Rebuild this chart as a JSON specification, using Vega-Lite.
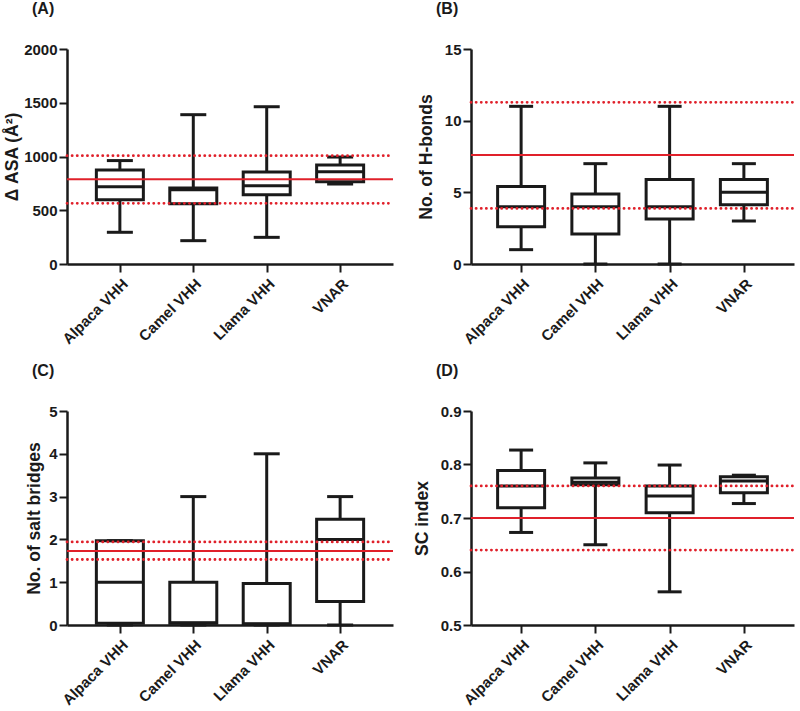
{
  "$schema": "https://vega.github.io/schema/vega-lite/v6.json",
  "background": "white",
  "padding": {"left": 3, "top": 1, "right": 0, "bottom": 0},
  "datasets": {
    "boxes": [
      {"panel": "A", "cat": "Alpaca VHH", "min": 295, "q1": 597, "median": 719, "q3": 874, "max": 962},
      {"panel": "A", "cat": "Camel VHH", "min": 217, "q1": 560, "median": 690, "q3": 706, "max": 1389},
      {"panel": "A", "cat": "Llama VHH", "min": 248, "q1": 645, "median": 729, "q3": 856, "max": 1463},
      {"panel": "A", "cat": "VNAR", "min": 744, "q1": 766, "median": 859, "q3": 921, "max": 995},
      {"panel": "B", "cat": "Alpaca VHH", "min": 1.0, "q1": 2.6, "median": 4.0, "q3": 5.4, "max": 11.0},
      {"panel": "B", "cat": "Camel VHH", "min": 0, "q1": 2.1, "median": 4.0, "q3": 4.88, "max": 7.0},
      {"panel": "B", "cat": "Llama VHH", "min": 0, "q1": 3.14, "median": 4.0, "q3": 5.9, "max": 11.0},
      {"panel": "B", "cat": "VNAR", "min": 3.0, "q1": 4.14, "median": 5.0, "q3": 5.9, "max": 7.0},
      {"panel": "C", "cat": "Alpaca VHH", "min": 0, "q1": 0.04, "median": 1.0, "q3": 1.97, "max": 1.97},
      {"panel": "C", "cat": "Camel VHH", "min": 0, "q1": 0.04, "median": 0.05, "q3": 1.0, "max": 3.0},
      {"panel": "C", "cat": "Llama VHH", "min": 0, "q1": 0.02, "median": 0.03, "q3": 0.97, "max": 4.0},
      {"panel": "C", "cat": "VNAR", "min": 0, "q1": 0.55, "median": 2.0, "q3": 2.47, "max": 3.0},
      {"panel": "D", "cat": "Alpaca VHH", "min": 0.673, "q1": 0.719, "median": 0.760, "q3": 0.789, "max": 0.827},
      {"panel": "D", "cat": "Camel VHH", "min": 0.650, "q1": 0.762, "median": 0.767, "q3": 0.775, "max": 0.803},
      {"panel": "D", "cat": "Llama VHH", "min": 0.562, "q1": 0.710, "median": 0.741, "q3": 0.760, "max": 0.799},
      {"panel": "D", "cat": "VNAR", "min": 0.727, "q1": 0.747, "median": 0.769, "q3": 0.777, "max": 0.780}
    ],
    "refs": [
      {"panel": "A", "kind": "mean", "value": 788},
      {"panel": "A", "kind": "sd", "value": 1008},
      {"panel": "A", "kind": "sd", "value": 564},
      {"panel": "B", "kind": "mean", "value": 7.6},
      {"panel": "B", "kind": "sd", "value": 11.28},
      {"panel": "B", "kind": "sd", "value": 3.88},
      {"panel": "C", "kind": "mean", "value": 1.73},
      {"panel": "C", "kind": "sd", "value": 1.94},
      {"panel": "C", "kind": "sd", "value": 1.53},
      {"panel": "D", "kind": "mean", "value": 0.70},
      {"panel": "D", "kind": "sd", "value": 0.76},
      {"panel": "D", "kind": "sd", "value": 0.64}
    ]
  },
  "config": {
    "view": {"stroke": null},
    "font": "Liberation Sans",
    "tick": {"opacity": 1},
    "axis": {
      "grid": false,
      "domainColor": "#1a1a1a",
      "domainWidth": 2.5,
      "tickColor": "#1a1a1a",
      "tickWidth": 2,
      "tickSize": 8,
      "labelFont": "Liberation Sans",
      "labelFontWeight": "bold",
      "labelFontSize": 15,
      "labelColor": "#1a1a1a",
      "labelPadding": 2,
      "titleFont": "Liberation Sans",
      "titleFontSize": 17.5,
      "titleFontWeight": "bold",
      "titleColor": "#1a1a1a"
    },
    "title": {"font": "Liberation Sans", "fontSize": 16, "fontWeight": "bold", "color": "#1a1a1a", "anchor": "start", "frame": "group", "dx": -35, "offset": 25}
  },
  "columns": 2,
  "spacing": {"row": 16, "column": 18},
  "concat": [
    {
      "title": "(A)",
      "width": 326, "height": 215,
      "encoding": {
        "x": {"field": "cat", "type": "nominal", "sort": null, "scale": {"type": "point", "padding": 0.72}, "axis": {"title": null, "labelAngle": -45, "labelPadding": 4}}
      },
      "layer": [
        {"data": {"name": "boxes"}, "transform": [{"filter": "datum.panel == 'A'"}], "mark": {"type": "rule", "color": "#1a1a1a", "strokeWidth": 3}, "encoding": {"y": {"field": "min", "type": "quantitative", "scale": {"domain": [0, 2000], "nice": false}, "axis": {"values": [0, 500, 1000, 1500, 2000], "format": "d", "title": "Δ ASA (Å²)", "titlePadding": 2}}, "y2": {"field": "max"}}},
        {"data": {"name": "boxes"}, "transform": [{"filter": "datum.panel == 'A'"}], "mark": {"type": "bar", "fill": "white", "stroke": "#1a1a1a", "strokeWidth": 3, "size": 47}, "encoding": {"y": {"field": "q1", "type": "quantitative"}, "y2": {"field": "q3"}}},
        {"data": {"name": "boxes"}, "transform": [{"filter": "datum.panel == 'A'"}], "mark": {"type": "tick", "color": "#1a1a1a", "thickness": 3, "size": 47}, "encoding": {"y": {"field": "median", "type": "quantitative"}}},
        {"data": {"name": "boxes"}, "transform": [{"filter": "datum.panel == 'A'"}], "mark": {"type": "tick", "color": "#1a1a1a", "thickness": 3, "size": 26}, "encoding": {"y": {"field": "min", "type": "quantitative"}}},
        {"data": {"name": "boxes"}, "transform": [{"filter": "datum.panel == 'A'"}], "mark": {"type": "tick", "color": "#1a1a1a", "thickness": 3, "size": 26}, "encoding": {"y": {"field": "max", "type": "quantitative"}}},
        {"data": {"name": "refs"}, "transform": [{"filter": "datum.panel == 'A' && datum.kind == 'mean'"}], "mark": {"type": "rule", "color": "#e0202a", "strokeWidth": 2}, "encoding": {"y": {"field": "value", "type": "quantitative"}, "x": {"value": 0}, "x2": {"value": 326}}},
        {"data": {"name": "refs"}, "transform": [{"filter": "datum.panel == 'A' && datum.kind == 'sd'"}], "mark": {"type": "rule", "color": "#e0202a", "strokeWidth": 2.8, "strokeDash": [0.1, 5], "strokeCap": "round"}, "encoding": {"y": {"field": "value", "type": "quantitative"}, "x": {"value": 0}, "x2": {"value": 326}}}
      ]
    },
    {
      "title": "(B)",
      "width": 323, "height": 215,
      "encoding": {
        "x": {"field": "cat", "type": "nominal", "sort": null, "scale": {"type": "point", "padding": 0.675}, "axis": {"title": null, "labelAngle": -45, "labelPadding": 4}}
      },
      "layer": [
        {"data": {"name": "boxes"}, "transform": [{"filter": "datum.panel == 'B'"}], "mark": {"type": "rule", "color": "#1a1a1a", "strokeWidth": 3}, "encoding": {"y": {"field": "min", "type": "quantitative", "scale": {"domain": [0, 15], "nice": false}, "axis": {"values": [0, 5, 10, 15], "title": "No. of  H-bonds", "titlePadding": 9}}, "y2": {"field": "max"}}},
        {"data": {"name": "boxes"}, "transform": [{"filter": "datum.panel == 'B'"}], "mark": {"type": "bar", "fill": "white", "stroke": "#1a1a1a", "strokeWidth": 3, "size": 47}, "encoding": {"y": {"field": "q1", "type": "quantitative"}, "y2": {"field": "q3"}}},
        {"data": {"name": "boxes"}, "transform": [{"filter": "datum.panel == 'B'"}], "mark": {"type": "tick", "color": "#1a1a1a", "thickness": 3, "size": 47}, "encoding": {"y": {"field": "median", "type": "quantitative"}}},
        {"data": {"name": "boxes"}, "transform": [{"filter": "datum.panel == 'B'"}], "mark": {"type": "tick", "color": "#1a1a1a", "thickness": 3, "size": 24}, "encoding": {"y": {"field": "min", "type": "quantitative"}}},
        {"data": {"name": "boxes"}, "transform": [{"filter": "datum.panel == 'B'"}], "mark": {"type": "tick", "color": "#1a1a1a", "thickness": 3, "size": 24}, "encoding": {"y": {"field": "max", "type": "quantitative"}}},
        {"data": {"name": "refs"}, "transform": [{"filter": "datum.panel == 'B' && datum.kind == 'mean'"}], "mark": {"type": "rule", "color": "#e0202a", "strokeWidth": 2}, "encoding": {"y": {"field": "value", "type": "quantitative"}, "x": {"value": 0}, "x2": {"value": 323}}},
        {"data": {"name": "refs"}, "transform": [{"filter": "datum.panel == 'B' && datum.kind == 'sd'"}], "mark": {"type": "rule", "color": "#e0202a", "strokeWidth": 2.8, "strokeDash": [0.1, 5], "strokeCap": "round"}, "encoding": {"y": {"field": "value", "type": "quantitative"}, "x": {"value": 0}, "x2": {"value": 323}}}
      ]
    },
    {
      "title": "(C)",
      "width": 326, "height": 214,
      "encoding": {
        "x": {"field": "cat", "type": "nominal", "sort": null, "scale": {"type": "point", "padding": 0.72}, "axis": {"title": null, "labelAngle": -45, "labelPadding": 4}}
      },
      "layer": [
        {"data": {"name": "boxes"}, "transform": [{"filter": "datum.panel == 'C'"}], "mark": {"type": "rule", "color": "#1a1a1a", "strokeWidth": 3}, "encoding": {"y": {"field": "min", "type": "quantitative", "scale": {"domain": [0, 5], "nice": false}, "axis": {"values": [0, 1, 2, 3, 4, 5], "title": "No. of  salt bridges", "titlePadding": 5}}, "y2": {"field": "max"}}},
        {"data": {"name": "boxes"}, "transform": [{"filter": "datum.panel == 'C'"}], "mark": {"type": "bar", "fill": "white", "stroke": "#1a1a1a", "strokeWidth": 3, "size": 47}, "encoding": {"y": {"field": "q1", "type": "quantitative"}, "y2": {"field": "q3"}}},
        {"data": {"name": "boxes"}, "transform": [{"filter": "datum.panel == 'C'"}], "mark": {"type": "tick", "color": "#1a1a1a", "thickness": 3, "size": 47}, "encoding": {"y": {"field": "median", "type": "quantitative"}}},
        {"data": {"name": "boxes"}, "transform": [{"filter": "datum.panel == 'C'"}], "mark": {"type": "tick", "color": "#1a1a1a", "thickness": 3, "size": 26}, "encoding": {"y": {"field": "min", "type": "quantitative"}}},
        {"data": {"name": "boxes"}, "transform": [{"filter": "datum.panel == 'C'"}], "mark": {"type": "tick", "color": "#1a1a1a", "thickness": 3, "size": 26}, "encoding": {"y": {"field": "max", "type": "quantitative"}}},
        {"data": {"name": "refs"}, "transform": [{"filter": "datum.panel == 'C' && datum.kind == 'mean'"}], "mark": {"type": "rule", "color": "#e0202a", "strokeWidth": 2}, "encoding": {"y": {"field": "value", "type": "quantitative"}, "x": {"value": 0}, "x2": {"value": 326}}},
        {"data": {"name": "refs"}, "transform": [{"filter": "datum.panel == 'C' && datum.kind == 'sd'"}], "mark": {"type": "rule", "color": "#e0202a", "strokeWidth": 2.8, "strokeDash": [0.1, 5], "strokeCap": "round"}, "encoding": {"y": {"field": "value", "type": "quantitative"}, "x": {"value": 0}, "x2": {"value": 326}}}
      ]
    },
    {
      "title": "(D)",
      "width": 323, "height": 214,
      "encoding": {
        "x": {"field": "cat", "type": "nominal", "sort": null, "scale": {"type": "point", "padding": 0.675}, "axis": {"title": null, "labelAngle": -45, "labelPadding": 4}}
      },
      "layer": [
        {"data": {"name": "boxes"}, "transform": [{"filter": "datum.panel == 'D'"}], "mark": {"type": "rule", "color": "#1a1a1a", "strokeWidth": 3}, "encoding": {"y": {"field": "min", "type": "quantitative", "scale": {"domain": [0.5, 0.9], "nice": false, "zero": false}, "axis": {"values": [0.5, 0.6, 0.7, 0.8, 0.9], "format": ".1f", "title": "SC index", "titlePadding": 9}}, "y2": {"field": "max"}}},
        {"data": {"name": "boxes"}, "transform": [{"filter": "datum.panel == 'D'"}], "mark": {"type": "bar", "fill": "white", "stroke": "#1a1a1a", "strokeWidth": 3, "size": 47}, "encoding": {"y": {"field": "q1", "type": "quantitative"}, "y2": {"field": "q3"}}},
        {"data": {"name": "boxes"}, "transform": [{"filter": "datum.panel == 'D'"}], "mark": {"type": "tick", "color": "#1a1a1a", "thickness": 3, "size": 47}, "encoding": {"y": {"field": "median", "type": "quantitative"}}},
        {"data": {"name": "boxes"}, "transform": [{"filter": "datum.panel == 'D'"}], "mark": {"type": "tick", "color": "#1a1a1a", "thickness": 3, "size": 24}, "encoding": {"y": {"field": "min", "type": "quantitative"}}},
        {"data": {"name": "boxes"}, "transform": [{"filter": "datum.panel == 'D'"}], "mark": {"type": "tick", "color": "#1a1a1a", "thickness": 3, "size": 24}, "encoding": {"y": {"field": "max", "type": "quantitative"}}},
        {"data": {"name": "refs"}, "transform": [{"filter": "datum.panel == 'D' && datum.kind == 'mean'"}], "mark": {"type": "rule", "color": "#e0202a", "strokeWidth": 2}, "encoding": {"y": {"field": "value", "type": "quantitative"}, "x": {"value": 0}, "x2": {"value": 323}}},
        {"data": {"name": "refs"}, "transform": [{"filter": "datum.panel == 'D' && datum.kind == 'sd'"}], "mark": {"type": "rule", "color": "#e0202a", "strokeWidth": 2.8, "strokeDash": [0.1, 5], "strokeCap": "round"}, "encoding": {"y": {"field": "value", "type": "quantitative"}, "x": {"value": 0}, "x2": {"value": 323}}}
      ]
    }
  ]
}
